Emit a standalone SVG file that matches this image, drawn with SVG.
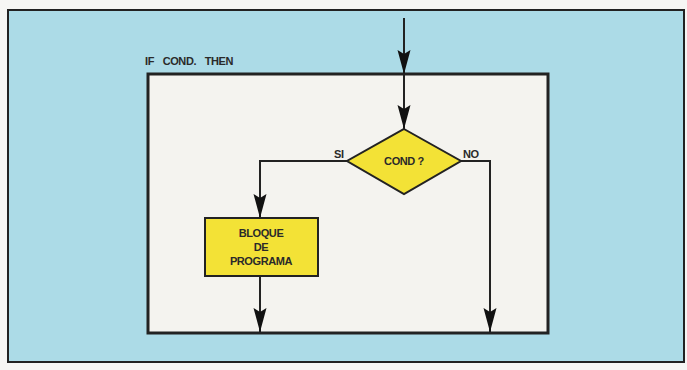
<svg xmlns="http://www.w3.org/2000/svg" width="687" height="370" viewBox="0 0 687 370">
<style>
.ln{fill:none;stroke:#222;stroke-width:2}
.tx{font-family:"Liberation Sans",Arial,sans-serif;font-size:11px;font-weight:bold;fill:#2a2a2a;letter-spacing:-0.4px}
.yel{fill:#f3e236;stroke:#222;stroke-width:2}
</style>
<defs>
<marker id="ah" viewBox="0 0 24 14" refX="24" refY="7" markerWidth="24" markerHeight="14" markerUnits="userSpaceOnUse" orient="auto">
<path d="M0,0.5 L24,7 L0,13.5 L4,7 Z" fill="#111"/>
</marker>
</defs>
<rect x="0" y="0" width="687" height="370" fill="#f6f6f4"/>
<rect id="frame" x="8" y="10" width="676" height="352" fill="#acdbe7" stroke="#222" stroke-width="2"/>
<g id="scope">
<rect x="148" y="74" width="400" height="259" fill="#f4f3ef" stroke="#222" stroke-width="3"/>
<text class="tx" x="145" y="65" word-spacing="6">IF COND. THEN</text>
</g>
<g id="connectors">
<line class="ln" x1="404" y1="18" x2="404" y2="74" marker-end="url(#ah)"/>
<line class="ln" x1="404" y1="74" x2="404" y2="129" marker-end="url(#ah)"/>
<polyline class="ln" points="348,161 260,161 260,218" marker-end="url(#ah)"/>
<line class="ln" x1="260" y1="276" x2="260" y2="332" marker-end="url(#ah)"/>
<polyline class="ln" points="460,161 490,161 490,332" marker-end="url(#ah)"/>
<text class="tx" x="334" y="158">SI</text>
<text class="tx" x="463" y="158">NO</text>
</g>
<g id="cond">
<polygon class="yel" points="404,129 461,161 404,194 347,161"/>
<text class="tx" x="404" y="165" text-anchor="middle" font-size="11.5">COND ?</text>
</g>
<g id="bloque">
<rect class="yel" x="205" y="218" width="113" height="58"/>
<text class="tx" x="261" y="237" text-anchor="middle">BLOQUE</text>
<text class="tx" x="261" y="251" text-anchor="middle">DE</text>
<text class="tx" x="261" y="265" text-anchor="middle">PROGRAMA</text>
</g>
</svg>
